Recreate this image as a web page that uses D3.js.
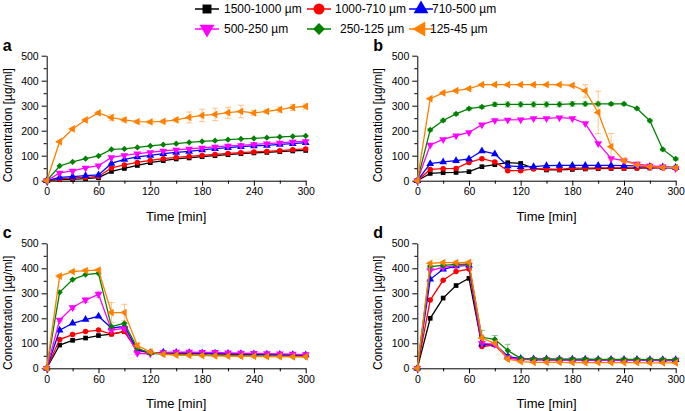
<!DOCTYPE html>
<html><head><meta charset="utf-8">
<script src="https://cdn.jsdelivr.net/npm/d3@7"></script>
<style>
html,body{margin:0;padding:0;background:#fff;}
svg{display:block;font-family:Arial,"Liberation Sans",sans-serif;}
</style></head>
<body><svg id="c" width="685" height="411"></svg>
<script>
// ---------- data ----------
const times = [0,15,30,45,60,75,90,105,120,135,150,165,180,195,210,225,240,255,270,285,300];
const seriesNames = ["1500-1000 µm","1000-710 µm","710-500 µm","500-250 µm","250-125 µm","125-45 µm"];
const seriesColors = ["#000000","#ff0000","#0000ff","#ff00ff","#008000","#ff8000"];
const xTicks = [0,60,120,180,240,300];
const yTicks = [0,100,200,300,400,500];
const panelLetters = ["a","b","c","d"];

// panel a
const a_black   = [0,4,5,8,12,37,49,61,72,80,87,91,96,100,104,108,111,113,116,119,121];
const a_red     = [0,7,11,13,17,51,63,73,81,88,93,97,101,105,109,112,115,117,120,124,127];
const a_blue    = [0,13,16,20,23,69,85,95,101,108,113,117,123,128,132,136,139,141,145,148,152];
const a_magenta = [0,31,39,51,60,93,101,108,113,119,123,127,131,135,139,141,145,148,151,155,157];
const a_green   = [0,59,75,88,99,125,127,133,139,144,148,153,157,160,164,167,169,172,175,177,179];
const a_orange  = [0,156,207,243,271,252,243,236,235,237,243,253,261,265,272,277,271,277,284,293,297];
const a_orangeErr = [0,3,4,5,5,12,8,6,6,6,8,22,25,25,22,25,10,8,10,12,10];

// panel b
const b_black   = [0,29,32,33,36,56,64,72,69,49,43,43,45,47,48,49,49,50,51,52,51];
const b_red     = [0,45,48,49,73,88,75,40,40,47,47,45,50,50,51,51,51,51,52,52,52];
const b_blue    = [0,68,75,80,87,119,107,59,56,56,60,61,61,61,61,61,60,59,57,55,53];
const b_magenta = [0,143,165,180,193,224,241,243,244,249,249,252,249,229,149,89,80,67,59,56,49];
const b_green   = [0,203,241,267,288,295,305,305,305,305,305,305,307,307,307,307,307,289,240,125,87];
const b_orange  = [0,328,351,360,368,384,384,384,384,384,384,384,381,359,273,136,80,63,56,53,52];
const b_orangeErr = [0,3,3,4,4,4,4,4,4,4,4,4,5,25,85,53,5,4,4,4,4];
const b_greenErr  = [0,5,5,5,5,6,8,10,10,10,10,10,9,8,8,6,5,5,5,5,5];

// panel c
const c_black   = [0,93,112,121,131,137,147,76,63,62,61,60,59,58,57,56,55,55,54,54,53];
const c_red     = [0,115,135,147,153,137,147,69,64,63,62,61,60,59,58,57,56,55,54,53,52];
const c_blue    = [0,152,180,195,208,161,168,73,62,64,63,62,61,60,59,58,57,56,55,54,53];
const c_magenta = [0,193,243,273,296,153,160,60,58,63,65,65,64,64,62,61,60,59,58,57,55];
const c_green   = [0,304,355,375,380,167,180,80,60,57,55,54,53,52,51,50,50,49,48,48,47];
const c_orange  = [0,369,387,391,393,223,223,91,66,56,53,52,51,50,49,48,48,47,47,46,46];
const c_orangeErr  = [0,5,4,4,5,40,33,8,4,3,3,3,3,3,3,3,3,3,3,3,3];
const c_magentaErr = [0,6,8,10,12,8,6,4,3,3,3,3,3,3,3,3,3,3,3,3,3];

// panel d
const d_black   = [0,200,281,331,360,93,96,47,37,35,34,34,34,33,33,33,32,32,32,31,31];
const d_red     = [0,273,352,387,397,87,93,40,36,35,35,34,34,34,33,33,33,33,32,32,32];
const d_blue    = [0,356,396,409,412,96,96,47,39,37,37,36,36,36,35,35,35,35,34,34,34];
const d_magenta = [0,391,404,411,413,100,96,43,36,35,35,34,34,34,33,33,33,33,33,33,33];
const d_green   = [0,407,412,416,417,124,116,71,40,38,38,37,37,37,36,36,36,36,35,35,35];
const d_orange  = [0,420,423,423,424,121,100,37,27,24,24,24,23,23,23,23,23,23,22,22,22];
const d_greenErr = [0,4,4,4,4,28,15,25,5,3,3,3,3,3,3,3,3,3,3,3,3];

const panelSeries = [
  [a_black,a_red,a_blue,a_magenta,a_green,a_orange],
  [b_black,b_red,b_blue,b_magenta,b_green,b_orange],
  [c_black,c_red,c_blue,c_magenta,c_green,c_orange],
  [d_black,d_red,d_blue,d_magenta,d_green,d_orange]
];
const panelErrors = [
  {5:a_orangeErr},
  {4:b_greenErr,5:b_orangeErr},
  {3:c_magentaErr,5:c_orangeErr},
  {4:d_greenErr}
];

// ---------- layout ----------
const svg = d3.select("#c");
const boxes = [
  {x0:46.7, x1:305.7, y0:180.7, y1:55.7},
  {x0:417.3,x1:675.7, y0:180.7, y1:55.7},
  {x0:46.7, x1:305.7, y0:368.3, y1:243.3},
  {x0:417.3,x1:675.7, y0:368.3, y1:243.3}
];

function markerPath(i, size){
  const types=[d3.symbolSquare,d3.symbolCircle,d3.symbolTriangle,d3.symbolTriangle,d3.symbolSquare,d3.symbolTriangle];
  return d3.symbol().type(types[i]).size(size)();
}
const markerRot=[0,0,0,180,45,-90];
const markerSize=[22,24,26,26,20,26];

boxes.forEach((b,pi)=>{
  const x=d3.scaleLinear().domain([0,300]).range([b.x0,b.x1]);
  const y=d3.scaleLinear().domain([0,500]).range([b.y0,b.y1]);
  const g=svg.append("g");

  const xMinor=d3.axisBottom(x).tickValues(d3.range(30,300,60)).tickSize(3).tickFormat("");
  const yMinor=d3.axisLeft(y).tickValues(d3.range(50,500,100)).tickSize(3).tickFormat("");
  g.append("g").attr("transform",`translate(0,${b.y0})`).call(xMinor).call(s=>s.select(".domain").remove());
  g.append("g").attr("transform",`translate(${b.x0},0)`).call(yMinor).call(s=>s.select(".domain").remove());

  const xa=g.append("g").attr("transform",`translate(0,${b.y0})`)
    .call(d3.axisBottom(x).tickValues(xTicks).tickSize(5).tickPadding(2).tickSizeOuter(0));
  const ya=g.append("g").attr("transform",`translate(${b.x0},0)`)
    .call(d3.axisLeft(y).tickValues(yTicks).tickSize(5).tickPadding(3).tickSizeOuter(0));
  [xa,ya].forEach(s=>{
    s.selectAll("text").attr("font-size",10.5).attr("fill","#000").attr("font-family","Arial, 'Liberation Sans', sans-serif");
    s.selectAll("line,path").attr("stroke","#000").attr("stroke-width",1);
  });
  g.selectAll(".tick line").attr("stroke","#000");

  g.append("text").attr("x",(b.x0+b.x1)/2).attr("y",b.y0+40)
    .attr("text-anchor","middle").attr("font-size",13).style("font-weight","normal").text("Time [min]");
  const cy=(b.y0+b.y1)/2+7, cx=b.x0-35;
  g.append("text").attr("transform",`translate(${cx},${cy}) rotate(-90)`)
    .attr("text-anchor","middle").attr("font-size",12).style("font-weight","normal").text("Concentration [µg/ml]");
  g.append("text").attr("x",b.x0-44).attr("y",b.y1-5)
    .attr("font-size",16).style("font-weight","bold").text(panelLetters[pi]);

  const line=d3.line().x((d,i)=>x(times[i])).y(d=>y(d));
  const errs=panelErrors[pi];
  panelSeries[pi].forEach((vals,si)=>{
    const col=seriesColors[si];
    if(errs[si]){
      const eg=g.append("g").attr("stroke",col).attr("stroke-opacity",0.45).attr("stroke-width",1);
      errs[si].forEach((e,i)=>{
        if(e<=0) return;
        const xx=x(times[i]), yt=y(vals[i]+e), yb=y(vals[i]-e);
        eg.append("line").attr("x1",xx).attr("x2",xx).attr("y1",yt).attr("y2",yb);
        eg.append("line").attr("x1",xx-3).attr("x2",xx+3).attr("y1",yt).attr("y2",yt);
        eg.append("line").attr("x1",xx-3).attr("x2",xx+3).attr("y1",yb).attr("y2",yb);
      });
    }
    g.append("path").datum(vals).attr("d",line).attr("fill","none").attr("stroke",col).attr("stroke-width",1.3);
    g.append("g").selectAll("path").data(vals).join("path")
      .attr("d",markerPath(si,markerSize[si]))
      .attr("transform",(d,i)=>`translate(${x(times[i])},${y(d)}) rotate(${markerRot[si]})`)
      .attr("fill",col);
  });
});

// ---------- legend ----------
const legendPos=[
  {mx:207,ty:9,tx:224},{mx:319,ty:9,tx:335},{mx:421,ty:9,tx:432},
  {mx:207,ty:29,tx:224},{mx:319,ty:29,tx:340},{mx:421,ty:29,tx:430}
];
const lg=svg.append("g");
seriesNames.forEach((n,i)=>{
  const p=legendPos[i];
  lg.append("line").attr("x1",p.mx-12).attr("x2",p.mx+12).attr("y1",p.ty).attr("y2",p.ty)
    .attr("stroke",seriesColors[i]).attr("stroke-width",1.5);
  lg.append("path").attr("d",markerPath(i,[80,95,95,95,70,95][i]))
    .attr("transform",`translate(${p.mx},${p.ty}) rotate(${markerRot[i]})`).attr("fill",seriesColors[i]);
  lg.append("text").attr("x",p.tx).attr("y",p.ty+4).attr("font-size",12).style("font-weight","normal").text(n);
});
</script></body></html>
